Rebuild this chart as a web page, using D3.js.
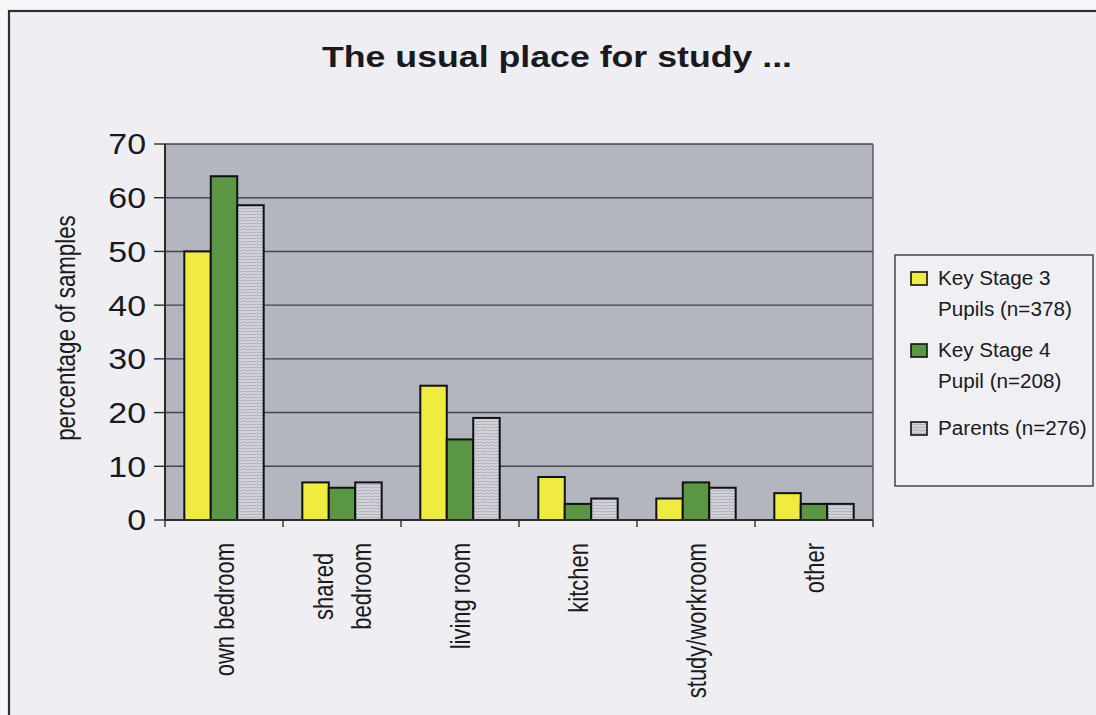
<!DOCTYPE html>
<html>
<head>
<meta charset="utf-8">
<script src="https://cdn.jsdelivr.net/npm/d3@7"></script>
<style>
  html, body { margin: 0; padding: 0; background: #f7f7f9; }
  svg { display: block; }
  text { font-family: "Liberation Sans", Arial, sans-serif; fill: #1a1a1e; }
</style>
</head>
<body>
<script>
// Where pupils and parents usually study (percentage of each sample)
const categories = ["own bedroom", "shared\nbedroom", "living room", "kitchen", "study/workroom", "other"];
const seriesNames = ["Key Stage 3\nPupils (n=378)", "Key Stage 4\nPupil (n=208)", "Parents (n=276)"];
const ks3Pupils = [50, 7, 25, 8, 4, 5];
const ks4Pupils = [64, 6, 15, 3, 7, 3];
const parents = [58.6, 7, 19, 4, 6, 3];
const yTicks = [0, 10, 20, 30, 40, 50, 60, 70];

const W = 1096, H = 715;
const plot = { left: 165, right: 873, top: 144, bottom: 520 };
const stretch = 1.19; // glyphs are drawn slightly wide

const svg = d3.select("body").append("svg").attr("width", W).attr("height", H);

// pattern for the parents' bars: pale grey with fine wavy lines
const defs = svg.append("defs");
const pat = defs.append("pattern").attr("id", "wavy").attr("patternUnits", "userSpaceOnUse")
  .attr("width", 6).attr("height", 3);
pat.append("rect").attr("width", 6).attr("height", 3).attr("fill", "#d6d7de");
pat.append("path").attr("d", "M0,1.5 Q1.5,0.4 3,1.5 T6,1.5").attr("fill", "none")
  .attr("stroke", "#989aa4").attr("stroke-width", 0.8);

// page and frame
svg.append("rect").attr("x", 9).attr("y", 11).attr("width", W).attr("height", H)
  .attr("fill", "#efeef3").attr("stroke", "#2e2e34").attr("stroke-width", 2.2);

const seriesData = [ks3Pupils, ks4Pupils, parents];
const fills = ["#f0eb40", "#5a9644", "url(#wavy)"];

const x0 = d3.scaleBand().domain(categories).range([plot.left, plot.right]).padding(0);
const x1 = d3.scaleBand().domain(d3.range(seriesNames.length)).range([0, x0.bandwidth()])
  .paddingInner(0).paddingOuter(0.73);
const y = d3.scaleLinear().domain([0, 70]).range([plot.bottom, plot.top]);

// plot area
svg.append("rect").attr("x", plot.left).attr("y", plot.top)
  .attr("width", plot.right - plot.left).attr("height", plot.bottom - plot.top)
  .attr("fill", "#b3b5bf");

// horizontal gridlines
svg.append("g").selectAll("line").data(yTicks.filter(d => d > 0)).join("line")
  .attr("x1", plot.left).attr("x2", plot.right)
  .attr("y1", d => y(d)).attr("y2", d => y(d))
  .attr("stroke", "#45454f").attr("stroke-width", 1.4);
svg.append("line").attr("x1", plot.right).attr("x2", plot.right)
  .attr("y1", plot.top).attr("y2", plot.bottom)
  .attr("stroke", "#55555f").attr("stroke-width", 1.4);

// bars
const groups = svg.append("g").selectAll("g").data(categories).join("g")
  .attr("transform", d => `translate(${x0(d)},0)`);
groups.selectAll("rect").data((d, i) => seriesData.map((s, j) => ({ j, v: s[i] }))).join("rect")
  .attr("x", d => x1(d.j)).attr("width", x1.bandwidth())
  .attr("y", d => y(d.v)).attr("height", d => y(0) - y(d.v))
  .attr("fill", d => fills[d.j]).attr("stroke", "#111114").attr("stroke-width", 2);

// y axis
const yAxis = svg.append("g");
yAxis.append("line").attr("x1", plot.left).attr("x2", plot.left)
  .attr("y1", plot.top).attr("y2", plot.bottom).attr("stroke", "#2a2a30").attr("stroke-width", 2);
yAxis.selectAll("line.tick").data(yTicks).join("line").attr("class", "tick")
  .attr("x1", plot.left - 11).attr("x2", plot.left)
  .attr("y1", d => y(d)).attr("y2", d => y(d))
  .attr("stroke", "#2a2a30").attr("stroke-width", 1.4);
yAxis.selectAll("text").data(yTicks).join("text")
  .attr("transform", d => `translate(146,${y(d)}) scale(${stretch - 0.02},1)`)
  .attr("dy", "0.36em").attr("text-anchor", "end")
  .style("font-size", "29px").text(d => d);

svg.append("text")
  .attr("transform", `translate(65,328) scale(1.25,1) rotate(-90)`)
  .attr("dy", "0.35em").attr("text-anchor", "middle")
  .style("font-size", "22.3px").text("percentage of samples");

// x axis
const xAxis = svg.append("g");
xAxis.append("line").attr("x1", plot.left).attr("x2", plot.right)
  .attr("y1", plot.bottom).attr("y2", plot.bottom).attr("stroke", "#2a2a30").attr("stroke-width", 2);
const bounds = categories.map(c => x0(c)).concat([plot.right]);
xAxis.selectAll("line.tick").data(bounds).join("line").attr("class", "tick")
  .attr("x1", d => d).attr("x2", d => d)
  .attr("y1", plot.bottom).attr("y2", plot.bottom + 7)
  .attr("stroke", "#2a2a30").attr("stroke-width", 1.4);

const labelStretch = 1.28;
const lineGap = 30;
categories.forEach(c => {
  const lines = c.split("\n");
  const cx = x0(c) + x0.bandwidth() / 2 - (lines.length - 1) * lineGap * labelStretch / 2;
  const t = xAxis.append("text").attr("text-anchor", "middle").style("font-size", "22px");
  lines.forEach((ln, i) => {
    t.append("tspan").attr("x", 0).attr("y", i * lineGap).attr("dy", "0.35em").text(ln);
  });
  const longest = d3.max(t.selectAll("tspan").nodes(), n => n.getComputedTextLength());
  t.attr("transform", `translate(${cx},${543 + longest / 2}) scale(${labelStretch},1) rotate(-90)`);
});

// title
svg.append("text")
  .attr("transform", `translate(557,67) scale(${stretch},1)`)
  .attr("text-anchor", "middle").style("font-size", "30px").style("font-weight", "bold")
  .text("The usual place for study ...");

// legend
const lg = svg.append("g");
lg.append("rect").attr("x", 895).attr("y", 255).attr("width", 198).attr("height", 231)
  .attr("fill", "#f0eff3").attr("stroke", "#3a3a40").attr("stroke-width", 1.4);
const legendRows = [272, 344, 422];
const legendFills = ["#f0eb40", "#5a9644", "url(#wavy)"];
seriesNames.forEach((name, i) => {
  const top = legendRows[i];
  lg.append("rect").attr("x", 911).attr("y", top).attr("width", 16).attr("height", 13)
    .attr("fill", legendFills[i])
    .attr("stroke", "#111114").attr("stroke-width", 1.6);
  name.split("\n").forEach((ln, k) => {
    lg.append("text")
      .attr("transform", `translate(938,${top + 13 + k * 30.5}) scale(1.06,1)`)
      .style("font-size", "19.5px").text(ln);
  });
});
</script>
</body>
</html>
